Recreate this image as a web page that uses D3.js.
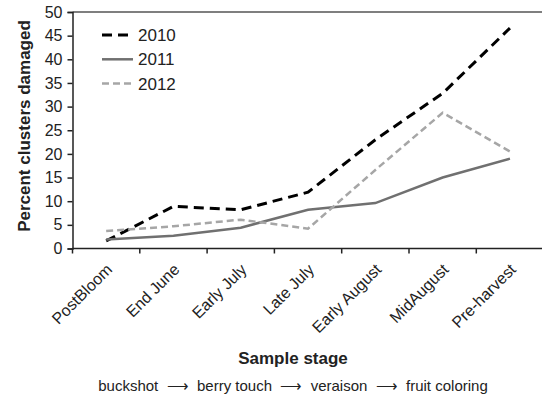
<!DOCTYPE html>
<html><head><meta charset="utf-8">
<script src="https://cdn.jsdelivr.net/npm/d3@7/dist/d3.min.js"></script>
<style>body{margin:0;background:#fff}svg{display:block}text{font-family:Arial,"Liberation Sans",sans-serif}</style>
</head><body><svg id="c" width="542" height="401"></svg>
<script>
const categories = ["PostBloom","End June","Early July","Late July","Early August","MidAugust","Pre-harvest"];
const s2010 = [1.6, 8.9, 8.2, 11.9, 23.0, 32.8, 46.6];
const s2011 = [1.9, 2.7, 4.4, 8.2, 9.6, 15.0, 19.0];
const s2012 = [3.7, 4.7, 6.1, 4.2, 16.6, 28.7, 20.5];
const yTicks = [0,5,10,15,20,25,30,35,40,45,50];
const seriesNames = ["2010","2011","2012"];
const caption = "buckshot \u00A0\u27F6\u00A0 berry touch \u00A0\u27F6\u00A0 veraison \u00A0\u27F6\u00A0 fruit coloring";

const svg = d3.select("#c");
const L = 72.5, T = 12, B = 248.5;
const bw = 67.3;
const x = d3.scaleBand().domain(categories).range([L, L + bw*categories.length]).padding(0);
const y = d3.scaleLinear().domain([0,50]).range([B, T]);

const styles = [
  {data:s2010, color:"#000", w:3, dash:"10,6"},
  {data:s2011, color:"#707070", w:2.5, dash:null},
  {data:s2012, color:"#a6a6a6", w:2.5, dash:"7,4"}
];

// top frame line
svg.append("line").attr("x1",L).attr("x2",542).attr("y1",y(50)).attr("y2",y(50))
  .attr("stroke","#555").attr("stroke-width",1.5);

// y axis
const ya = svg.append("g").attr("transform",`translate(${L},0)`)
  .call(d3.axisLeft(y).tickValues(yTicks).tickSize(5).tickPadding(5).tickFormat(d3.format("d")));
ya.select(".domain").attr("stroke","#222").attr("stroke-width",1.5);
ya.selectAll(".tick line").attr("stroke","#222").attr("stroke-width",1.5);
ya.selectAll(".tick text").attr("font-size",16).attr("fill","#222").attr("font-family","Arial, 'Liberation Sans', sans-serif");

// x axis
const xa = svg.append("g").attr("transform",`translate(0,${B})`)
  .call(d3.axisBottom(x).tickSize(5).tickSizeOuter(0).tickFormat(""));
xa.select(".domain").attr("d",`M${L},0H542`).attr("stroke","#222").attr("stroke-width",1.5);
xa.selectAll(".tick").remove();
const bounds = categories.map(c => x(c));
xa.selectAll("line.bt").data(bounds).join("line").attr("class","bt")
  .attr("x1",d=>d).attr("x2",d=>d).attr("y1",0).attr("y2",5)
  .attr("stroke","#222").attr("stroke-width",1.5);

// x labels
svg.append("g").selectAll("text").data(categories).join("text")
  .attr("transform",d=>`translate(${x(d)+x.bandwidth()/2+7},${B+22}) rotate(-45)`)
  .attr("text-anchor","end").attr("font-size",16).attr("fill","#222").text(d=>d);

// lines
const line = d3.line().x((d,i)=>x(categories[i])+x.bandwidth()/2).y(d=>y(d));
styles.forEach(s=>{
  svg.append("path").datum(s.data).attr("d",line).attr("fill","none")
    .attr("stroke",s.color).attr("stroke-width",s.w)
    .attr("stroke-dasharray",s.dash).attr("stroke-linejoin","miter");
});

// legend
const lg = svg.append("g");
styles.forEach((s,i)=>{
  const yy = 35 + i*24.3;
  lg.append("line").attr("x1",102).attr("x2",133).attr("y1",yy).attr("y2",yy)
    .attr("stroke",s.color).attr("stroke-width",s.w).attr("stroke-dasharray",s.dash);
  lg.append("text").attr("x",138).attr("y",yy+6).attr("font-size",17).attr("fill","#222").text(seriesNames[i]);
});

// axis titles
svg.append("text").attr("transform",`translate(30,${126}) rotate(-90)`)
  .attr("text-anchor","middle").attr("font-size",17).attr("font-weight","bold").attr("fill","#222")
  .text("Percent clusters damaged");
svg.append("text").attr("x",293).attr("y",364).attr("text-anchor","middle")
  .attr("font-size",17).attr("font-weight","bold").attr("fill","#222").text("Sample stage");
svg.append("text").attr("x",293).attr("y",391).attr("text-anchor","middle")
  .attr("font-size",15).attr("fill","#222").text(caption);
</script></body></html>
